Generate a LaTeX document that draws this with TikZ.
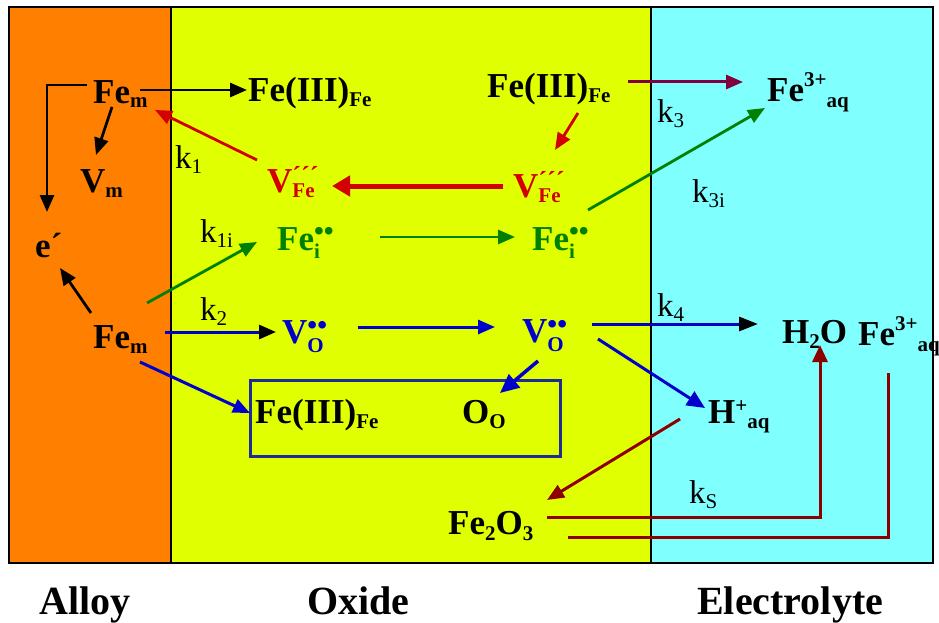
\documentclass[tikz,border=0pt]{standalone}
\usepackage{fontspec}
\setmainfont{Liberation Serif}
\usetikzlibrary{arrows.meta}
\definecolor{alloyC}{RGB}{255,128,0}
\definecolor{oxideC}{RGB}{224,255,0}
\definecolor{elecC}{RGB}{128,255,255}
\definecolor{redC}{RGB}{210,0,0}
\definecolor{greenC}{RGB}{0,128,0}
\definecolor{blueC}{RGB}{0,0,204}
\definecolor{purpC}{RGB}{128,0,64}
\definecolor{dredC}{RGB}{140,0,0}
\definecolor{boxC}{RGB}{30,45,150}
\newcommand\mysb[2][6pt]{\lower#1\hbox{\fontsize{21}{21}\selectfont #2}}
\newcommand\mysp[2][15pt]{\raise#1\hbox{\fontsize{21}{21}\selectfont #2}}
% #1 raise, #2 lower, #3 sup size, #4 sup, #5 sub
\newcommand\mystk[5]{%
  \setbox0=\hbox{\fontsize{#3}{#3}\selectfont #4}%
  \setbox2=\hbox{\fontsize{21}{21}\selectfont #5}%
  \ifdim\wd0>\wd2 \dimen0=\wd0 \else \dimen0=\wd2 \fi
  \rlap{\raise#1\box0}\lower#2\hbox to\dimen0{\box2\hss}}
\tikzset{
  sp/.style={inner sep=0pt, anchor=base west, font=\fontsize{35}{42}\selectfont\bfseries},
  kl/.style={inner sep=0pt, anchor=base west, font=\fontsize{33}{40}\selectfont},
  lab/.style={inner sep=0pt, anchor=base west, font=\fontsize{40}{48}\selectfont\bfseries},
  arr/.style={line width=2.8pt, -{Triangle[length=17pt,width=14pt]}},
  region/.style={draw=black, line width=2pt}
}
\begin{document}
\begin{tikzpicture}[x=1pt,y=-1pt]
\useasboundingbox (0,0) rectangle (939,623);
\fill[white] (0,0) rectangle (939,623);
% regions
\filldraw[region, fill=alloyC] (9,7) rectangle (171,563);
\filldraw[region, fill=oxideC] (171,7) rectangle (651,563);
\filldraw[region, fill=elecC, line width=1.5pt] (651,7) rectangle (933,563);
% box
\node[draw=boxC, line width=3pt, minimum width=310pt, minimum height=76pt, inner sep=0pt] (box) at (405,418) {};
% species
\node[sp] (feT) at (93,103) {Fe\mysb[5pt]{m}};
\node[sp] (fe3L) at (248,102) {Fe(III)\mysb[5pt]{Fe}};
\node[sp] (fe3R) at (487,98) {Fe(III)\mysb[5pt]{Fe}};
\node[sp] (fe3aqT) at (767,102) {Fe\mysp[15pt]{3+}\mysb[6pt]{aq}};
\node[sp] (vm) at (80,192) {V\mysb[5pt]{m}};
\node[sp] (ep) at (35,257) {e´};
\node[sp, text=redC] (vfeL) at (267,192) {V\mystk{8pt}{5pt}{26}{´´´}{Fe}};
\node[sp, text=redC] (vfeR) at (513,197) {V\mystk{8pt}{5pt}{26}{´´´}{Fe}};
\node[sp, text=greenC] (feiL) at (277,250) {Fe\mystk{10pt}{8pt}{28}{••}{i}};
\node[sp, text=greenC] (feiR) at (532,250) {Fe\mystk{10pt}{8pt}{28}{••}{i}};
\node[sp] (feB) at (93,348) {Fe\mysb[5pt]{m}};
\node[sp, text=blueC] (voL) at (282,343) {V\mystk{9pt}{9pt}{28}{••}{O}};
\node[sp, text=blueC] (voR) at (522,342) {V\mystk{9pt}{9pt}{28}{••}{O}};
\node[sp] (h2o) at (782,343) {H\mysb[5pt]{2}O};
\node[sp] (fe3aqR) at (858,345) {Fe\mysp[15pt]{3+}\mysb[6pt]{aq}};
\node[sp] (hplus) at (708,423) {H\mysp[11pt]{+}\mysb[5pt]{aq}};
\node[sp] (fe3box) at (255,423) {Fe(III)\mysb[5pt]{Fe}};
\node[sp] (oo) at (462,423) {O\mysb[5pt]{O}};
\node[sp] (fe2o3) at (448,534) {Fe\mysb[6pt]{2}O\mysb[6pt]{3}};
% rate labels
\node[kl] (k1) at (175,168) {k\mysb[5pt]{1}};
\node[kl] (k1i) at (200,242) {k\mysb[5pt]{1i}};
\node[kl] (k2) at (200,320) {k\mysb[5pt]{2}};
\node[kl] (k3) at (657,123) {k\mysb[5pt]{3}};
\node[kl] (k3i) at (692,202) {k\mysb[5pt]{3i}};
\node[kl] (k4) at (657,316) {k\mysb[5pt]{4}};
\node[kl] (kS) at (689,503) {k\mysb[5pt]{S}};
% region labels
\node[lab] (alloy) at (39,614) {Alloy};
\node[lab] (oxide) at (307,614) {Oxide};
\node[lab] (elec) at (697,614) {Electrolyte};
% connectors
\draw[arr] ([shift={(47,-13)}]feT.base west) -- ([shift={(-1,-12)}]fe3L.base west);
\draw[arr] ([shift={(-6,-18)}]feT.base west) -| ([shift={(12,-45)}]ep.base west);
\draw[arr] ([shift={(19,4)}]feT.base west) -- ([shift={(16,-37)}]vm.base west);
\draw[arr, redC] ([shift={(-10,-32)}]vfeL.base west) -- ([shift={(62,7)}]feT.base west);
\draw[redC, line width=5pt, -{Triangle[length=18pt,width=20pt]}] ([shift={(-10,-11)}]vfeR.base west) -- ([shift={(65,-6)}]vfeL.base west);
\draw[arr, redC] ([shift={(91,15)}]fe3R.base west) -- ([shift={(42,-47)}]vfeR.base west);
\draw[arr, purpC, line width=3pt] ([shift={(141,-16)}]fe3R.base west) -- ([shift={(-24,-20)}]fe3aqT.base west);
\draw[arr, greenC] ([shift={(54,-45)}]feB.base west) -- ([shift={(-20,-8)}]feiL.base west);
\draw[arr, greenC] ([shift={(103,-13)}]feiL.base west) -- ([shift={(-17,-13)}]feiR.base west);
\draw[arr, greenC] ([shift={(56,-40)}]feiR.base west) -- ([shift={(-2,6)}]fe3aqT.base west);
\draw[arr] ([shift={(-2,-35)}]feB.base west) -- ([shift={(25,11)}]ep.base west);
\draw[line width=3pt, blueC, -{Triangle[length=17pt,width=14pt,color=black]}] ([shift={(72,-16)}]feB.base west) -- ([shift={(-6,-11)}]voL.base west);
\draw[arr, blueC, line width=3pt] ([shift={(76,-16)}]voL.base west) -- ([shift={(-27,-15)}]voR.base west);
\draw[arr, blueC, line width=3.5pt, -{Triangle[length=19pt,width=17pt]}] ([shift={(16,19)}]voR.base west) -- ([shift={(38,-30)}]oo.base west);
\draw[arr, blueC, line width=3pt] ([shift={(47,14)}]feB.base west) -- ([shift={(-5,-10)}]fe3box.base west);
\draw[line width=3pt, blueC, -{Triangle[length=19pt,width=14pt,color=black]}] ([shift={(70,-18)}]voR.base west) -- ([shift={(-24,-19)}]h2o.base west);
\draw[arr, blueC, line width=3pt, -{Triangle[length=18pt,width=16pt]}] ([shift={(76,-3)}]voR.base west) -- ([shift={(-3,-15)}]hplus.base west);
\draw[arr, dredC, line width=3pt] ([shift={(-28,-4)}]hplus.base west) -- ([shift={(99,-34)}]fe2o3.base west);
\draw[dredC, line width=3pt, -{Triangle[length=17pt,width=15pt]}] ([shift={(99,-17)}]fe2o3.base west) -| ([shift={(38,2)}]h2o.base west);
\draw[dredC, line width=3pt] ([shift={(120,3)}]fe2o3.base west) -| ([shift={(30,28)}]fe3aqR.base west);
\end{tikzpicture}
\end{document}
